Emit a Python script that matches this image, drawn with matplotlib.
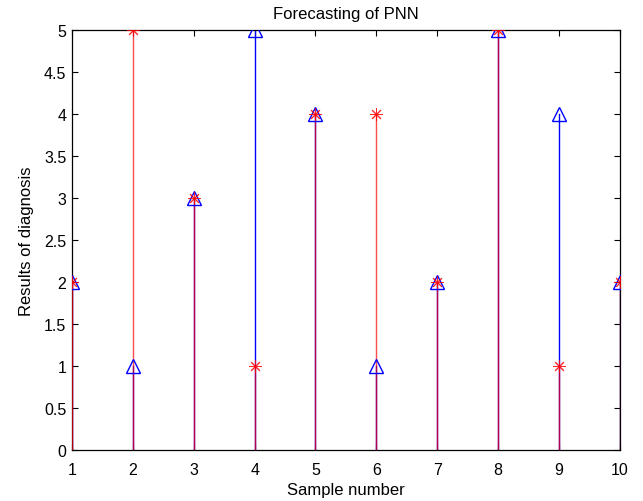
import matplotlib.pyplot as plt

plt.rcParams['font.family'] = ['Liberation Sans', 'DejaVu Sans']

# sample numbers and diagnosis results
samples = [1, 2, 3, 4, 5, 6, 7, 8, 9, 10]
actual = [2, 1, 3, 5, 4, 1, 2, 5, 4, 2]
predicted = [2, 5, 3, 1, 4, 4, 2, 5, 1, 2]
yticks = [0, 0.5, 1, 1.5, 2, 2.5, 3, 3.5, 4, 4.5, 5]
ytick_labels = ['0', '0.5', '1', '1.5', '2', '2.5', '3', '3.5', '4', '4.5', '5']

fig = plt.figure(figsize=(6.43, 5.02), dpi=100)
ax = fig.add_axes([0.112, 0.1016, 0.852, 0.8364])

# blue stems (actual) then red stems (PNN output) on top
for x, y in zip(samples, actual):
    ax.plot([x, x], [0, y], color='blue', lw=1, zorder=2)
ax.plot(samples, actual, linestyle='none', marker='^', ms=10,
        mfc='none', mec='blue', mew=1, zorder=4)

for x, y in zip(samples, predicted):
    ax.plot([x, x], [0, y], color='red', lw=1, alpha=0.7, zorder=3)
ax.plot(samples, predicted, linestyle='none', marker=(8, 2, 0), ms=9,
        color='red', mec='red', mew=0.7, alpha=0.85, zorder=5)

ax.set_xlim(1, 10)
ax.set_ylim(0, 5)
ax.set_xticks(samples)
ax.set_yticks(yticks)
ax.set_yticklabels(ytick_labels)
ax.tick_params(direction='in', top=True, right=True, length=4,
               labelsize=11.5, width=0.8)
ax.tick_params(axis='y', pad=4)
ax.tick_params(axis='x', pad=9)
for sp in ax.spines.values():
    sp.set_linewidth(0.9)

ax.set_title('Forecasting of PNN', fontsize=12, pad=9)
ax.set_xlabel('Sample number', fontsize=12, labelpad=3)
ax.set_ylabel('Results of diagnosis', fontsize=12, labelpad=7)

fig.savefig('out.png', dpi=100)
